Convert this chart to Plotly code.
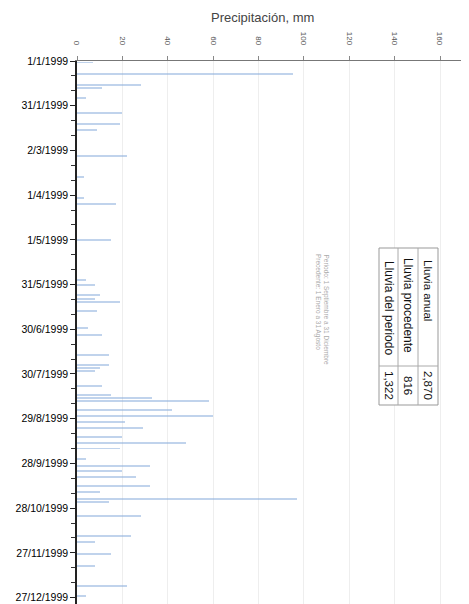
import plotly.graph_objects as go

# Rainy days (date) and daily precipitation (mm)
rain_dates = [
    "1999-01-02", "1999-01-10", "1999-01-17", "1999-01-19", "1999-01-26",
    "1999-02-05", "1999-02-12", "1999-02-16", "1999-03-06", "1999-03-20",
    "1999-04-03", "1999-04-07", "1999-05-01", "1999-05-28", "1999-05-31",
    "1999-06-07", "1999-06-10", "1999-06-12", "1999-06-18", "1999-06-29",
    "1999-07-04", "1999-07-17", "1999-07-24", "1999-07-26", "1999-07-28",
    "1999-08-07", "1999-08-13", "1999-08-15", "1999-08-17", "1999-08-23",
    "1999-08-27", "1999-08-31", "1999-09-04", "1999-09-10", "1999-09-14",
    "1999-09-18", "1999-09-25", "1999-09-30", "1999-10-03", "1999-10-07",
    "1999-10-13", "1999-10-17", "1999-10-22", "1999-10-24", "1999-11-02",
    "1999-11-16", "1999-11-20", "1999-11-28", "1999-12-06", "1999-12-19",
    "1999-12-26",
]
rain_mm = [
    7, 95, 28, 11, 4,
    20, 19, 9, 22, 3,
    3, 17, 15, 4, 8,
    10, 8, 19, 9, 5,
    11, 14, 14, 10, 8,
    11, 15, 33, 58, 42,
    60, 21, 29, 20, 48,
    19, 4, 32, 20, 26,
    32, 10, 97, 14, 28,
    24, 8, 15, 8, 22,
    4,
]

# Date axis ticks
date_tickvals = [
    "1999-01-01", "1999-01-31", "1999-03-02", "1999-04-01", "1999-05-01",
    "1999-05-31", "1999-06-30", "1999-07-30", "1999-08-29", "1999-09-28",
    "1999-10-28", "1999-11-27", "1999-12-27",
]
date_ticktext = [
    "1/1/1999", "31/1/1999", "2/3/1999", "1/4/1999", "1/5/1999",
    "31/5/1999", "30/6/1999", "30/7/1999", "29/8/1999", "28/9/1999",
    "28/10/1999", "27/11/1999", "27/12/1999",
]
precip_tickvals = [0, 20, 40, 60, 80, 100, 120, 140, 160]

# Summary table
table_labels = ["Lluvia anual", "Lluvia procedente", "Lluvia del periodo"]
table_values = ["2,870", "816", "1,322"]
note_lines = ["Periodo: 1 Septiembre a 31 Diciembre", "Precedente: 1 Enero a 31 Agosto"]

DAY_MS = 86400000

fig = go.Figure()
fig.add_trace(go.Bar(
    y=rain_dates, x=rain_mm, orientation="h",
    width=DAY_MS * 1.3,
    marker=dict(color="rgba(140,175,220,0.55)", line=dict(width=0)),
    hoverinfo="x+y",
))

# page body has an 8px default margin: figure origin sits at (8, 8)
fig.update_layout(
    width=461, height=596,
    margin=dict(l=69, r=4, t=53, b=0, autoexpand=False),
    paper_bgcolor="white", plot_bgcolor="white",
    showlegend=False,
    font=dict(family="Liberation Sans, Arial, sans-serif", color="#333"),
    bargap=0,
)

fig.update_xaxes(
    side="top", range=[0, 171],
    tickvals=precip_tickvals,
    tickangle=90,
    tickfont=dict(size=8, color="#555"),
    ticks="outside", ticklen=4, tickcolor="#888",
    ticklabelstandoff=8,
    showline=True, linecolor="#777", linewidth=1,
    showgrid=True, gridcolor="#eeeeee", gridwidth=1,
    zeroline=False, automargin=False,
)

fig.update_yaxes(
    type="date",
    range=["1999-12-31 08:00", "1999-01-01"],
    tickvals=date_tickvals, ticktext=date_ticktext,
    tickfont=dict(size=10.5, color="#000", family="Liberation Sans, Arial, sans-serif"),
    ticks="outside", ticklen=5, tickcolor="#222", tickwidth=1.3,
    showline=True, linecolor="#222", linewidth=1.5,
    showgrid=False, zeroline=False, automargin=False,
    minor=dict(tick0="1999-01-01", dtick=DAY_MS * 10, ticks="outside",
               ticklen=4, tickcolor="#333", tickwidth=1, showgrid=False),
)

# Title
fig.add_annotation(
    text="Precipitación, mm", xref="paper", yref="paper",
    x=0.479, y=1.081, xanchor="center", yanchor="middle",
    showarrow=False, font=dict(size=13, color="#444"),
)

# Table (rotated); helpers convert page pixels to paper coordinates
def px_x(px):
    return (px - 77) / 388.0

def px_y(py):
    return 1 - (py - 61) / 543.0

box_x0, box_x1 = px_x(379), px_x(438)
box_y0, box_y1 = px_y(405), px_y(248)
sep_y = px_y(366)
col_edges = [px_x(398), px_x(418)]

fig.add_shape(type="rect", xref="paper", yref="paper",
              x0=box_x0, x1=box_x1, y0=box_y0, y1=box_y1,
              line=dict(color="#999", width=1), fillcolor="white", layer="above")
for cx in col_edges:
    fig.add_shape(type="line", xref="paper", yref="paper",
                  x0=cx, x1=cx, y0=box_y0, y1=box_y1,
                  line=dict(color="#aaa", width=1))
fig.add_shape(type="line", xref="paper", yref="paper",
              x0=box_x0, x1=box_x1, y0=sep_y, y1=sep_y,
              line=dict(color="#aaa", width=1))

col_centers = [428, 408, 389]
label_centers = [290, 305, 308]
label_sizes = [11.5, 12, 12]
for lab, val, cx, ly, fs in zip(table_labels, table_values, col_centers, label_centers, label_sizes):
    fig.add_annotation(text=lab, xref="paper", yref="paper",
                       x=px_x(cx), y=px_y(ly), xanchor="center", yanchor="middle",
                       textangle=90, showarrow=False,
                       font=dict(size=fs, color="#111"))
    fig.add_annotation(text=val, xref="paper", yref="paper",
                       x=px_x(cx), y=px_y(385), xanchor="center", yanchor="middle",
                       textangle=90, showarrow=False,
                       font=dict(size=11.5, color="#111"))

for line_txt, cx in zip(note_lines, [326, 318]):
    fig.add_annotation(text=line_txt, xref="paper", yref="paper",
                       x=px_x(cx), y=px_y(252), xanchor="center", yanchor="top",
                       textangle=90, showarrow=False,
                       font=dict(size=6.5, color="#aaa"))

fig.write_html("out.html")
